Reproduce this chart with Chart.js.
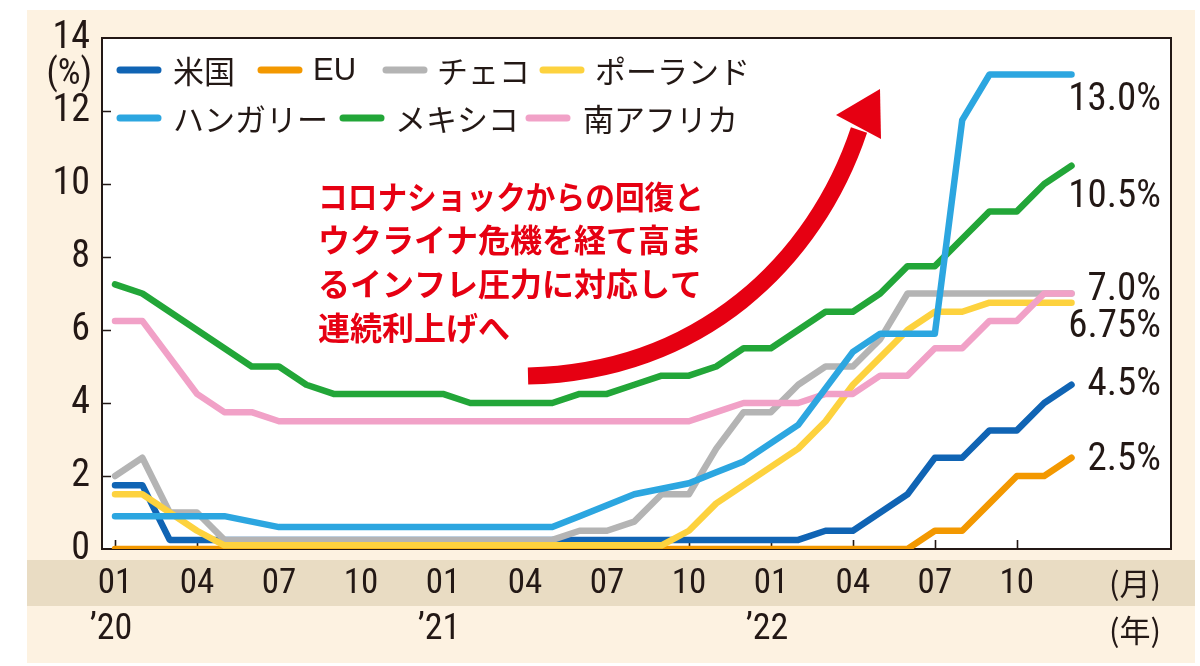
<!DOCTYPE html>
<html><head><meta charset="utf-8">
<script src="https://cdn.jsdelivr.net/npm/chart.js@4.4.1/dist/chart.umd.min.js"></script>
<style>html,body{margin:0;padding:0;background:#fff}canvas{display:block}</style>
</head><body>
<canvas id="c" width="1200" height="666"></canvas>
<script>
// ---- data ----
const months = [
 '2020-01','2020-02','2020-03','2020-04','2020-05','2020-06','2020-07','2020-08','2020-09','2020-10','2020-11','2020-12',
 '2021-01','2021-02','2021-03','2021-04','2021-05','2021-06','2021-07','2021-08','2021-09','2021-10','2021-11','2021-12',
 '2022-01','2022-02','2022-03','2022-04','2022-05','2022-06','2022-07','2022-08','2022-09','2022-10','2022-11','2022-12'];
const seriesNames = ['米国','EU','チェコ','ポーランド','ハンガリー','メキシコ','南アフリカ'];
const usRate = [1.75,1.75,0.25,0.25,0.25,0.25,0.25,0.25,0.25,0.25,0.25,0.25,
 0.25,0.25,0.25,0.25,0.25,0.25,0.25,0.25,0.25,0.25,0.25,0.25,
 0.25,0.25,0.5,0.5,1.0,1.5,2.5,2.5,3.25,3.25,4.0,4.5];
const euRate = [0,0,0,0,0,0,0,0,0,0,0,0,
 0,0,0,0,0,0,0,0,0,0,0,0,
 0,0,0,0,0,0,0.5,0.5,1.25,2.0,2.0,2.5];
const czRate = [2.0,2.5,1.0,1.0,0.25,0.25,0.25,0.25,0.25,0.25,0.25,0.25,
 0.25,0.25,0.25,0.25,0.25,0.5,0.5,0.75,1.5,1.5,2.75,3.75,
 3.75,4.5,5.0,5.0,5.75,7.0,7.0,7.0,7.0,7.0,7.0,7.0];
const plRate = [1.5,1.5,1.0,0.5,0.1,0.1,0.1,0.1,0.1,0.1,0.1,0.1,
 0.1,0.1,0.1,0.1,0.1,0.1,0.1,0.1,0.1,0.5,1.25,1.75,
 2.25,2.75,3.5,4.5,5.25,6.0,6.5,6.5,6.75,6.75,6.75,6.75];
const huRate = [0.9,0.9,0.9,0.9,0.9,0.75,0.6,0.6,0.6,0.6,0.6,0.6,
 0.6,0.6,0.6,0.6,0.6,0.9,1.2,1.5,1.65,1.8,2.1,2.4,
 2.9,3.4,4.4,5.4,5.9,5.9,5.9,11.75,13.0,13.0,13.0,13.0];
const mxRate = [7.25,7.0,6.5,6.0,5.5,5.0,5.0,4.5,4.25,4.25,4.25,4.25,
 4.25,4.0,4.0,4.0,4.0,4.25,4.25,4.5,4.75,4.75,5.0,5.5,
 5.5,6.0,6.5,6.5,7.0,7.75,7.75,8.5,9.25,9.25,10.0,10.5];
const zaRate = [6.25,6.25,5.25,4.25,3.75,3.75,3.5,3.5,3.5,3.5,3.5,3.5,
 3.5,3.5,3.5,3.5,3.5,3.5,3.5,3.5,3.5,3.5,3.75,4.0,
 4.0,4.0,4.25,4.25,4.75,4.75,5.5,5.5,6.25,6.25,7.0,7.0];
const yTicks = [0,2,4,6,8,10,12,14];
const xTickMonths = ['01','04','07','10'];
const yearLabels = ['’20','’21','’22'];
const endLabels = ['13.0%','10.5%','7.0%','6.75%','4.5%','2.5%'];
const noteLines = ['コロナショックからの回復と','ウクライナ危機を経て高ま','るインフレ圧力に対応して','連続利上げへ'];

// ---- styling ----
const INK = '#231815';
const RED = '#e60012';
const NUM = "'Liberation Sans Narrow','Arial Narrow','Roboto Condensed','Liberation Sans',sans-serif";
const JP = "'Noto Sans CJK JP','Noto Sans',sans-serif";
const colors = ['#1064b4','#f39800','#b4b4b4','#fdd23e','#2ca6e0','#22a638','#f1a1c7'];
const orders = [7,6,5,4,1,2,3];
const allSeries = [usRate,euRate,czRate,plRate,huRate,mxRate,zaRate];
const tickIdx = months.map((m,i)=>xTickMonths.includes(m.slice(5))?i:-1).filter(i=>i>=0);
const yearIdx = months.map((m,i)=>m.endsWith('-01')?i:-1).filter(i=>i>=0);

const datasets = allSeries.map((arr,k)=>({
  label: seriesNames[k],
  data: arr.map((v,i)=>({x:i,y:v})),
  borderColor: colors[k],
  backgroundColor: colors[k],
  borderWidth: 6.5,
  pointRadius: 0,
  tension: 0,
  borderCapStyle: 'round',
  borderJoinStyle: 'round',
  order: orders[k]
}));

const decor = {
  id: 'decor',
  beforeDraw(chart){
    const ctx = chart.ctx, ca = chart.chartArea;
    ctx.save();
    ctx.fillStyle = '#ffffff'; ctx.fillRect(0,0,1200,666);
    ctx.fillStyle = '#fdf2e1'; ctx.fillRect(27,10,1168,653);
    ctx.fillStyle = '#e9dcc3'; ctx.fillRect(27,560,1168,46);
    ctx.fillStyle = '#ffffff'; ctx.fillRect(ca.left,ca.top,ca.right-ca.left,ca.bottom-ca.top);
    ctx.restore();
  },
  beforeDatasetsDraw(chart){
    const ctx = chart.ctx, ca = chart.chartArea;
    const xs = chart.scales.x, ys = chart.scales.y;
    ctx.save();
    ctx.strokeStyle = INK; ctx.lineWidth = 2;
    ctx.strokeRect(ca.left, ca.top, ca.right-ca.left, ca.bottom-ca.top);
    ctx.lineWidth = 1.6;
    ctx.beginPath();
    yTicks.forEach(v=>{ if(v>0 && v<14){ const y=Math.round(ys.getPixelForValue(v))+0.5; ctx.moveTo(ca.left,y); ctx.lineTo(ca.left+9,y);} });
    tickIdx.forEach(i=>{ const x=Math.round(xs.getPixelForValue(i))+0.5; ctx.moveTo(x,ca.bottom); ctx.lineTo(x,ca.bottom-9); });
    ctx.stroke();
    ctx.restore();
  },
  afterDatasetsDraw(chart){
    const ctx = chart.ctx, xs = chart.scales.x;
    ctx.save();
    // legend
    const legPos = [[117,173,70],[258,313,70],[383,437,70],[540,595,70],[117,173,118],[340,395,118],[526,583,118]];
    chart.data.datasets.forEach((ds,k)=>{
      const [sx,tx,y] = legPos[k];
      ctx.strokeStyle = ds.borderColor; ctx.lineWidth = 7; ctx.lineCap = 'round';
      ctx.beginPath(); ctx.moveTo(sx+3,y); ctx.lineTo(sx+41,y); ctx.stroke();
      ctx.fillStyle = INK; ctx.textBaseline = 'middle'; ctx.textAlign = 'left';
      ctx.font = (ds.label==='EU' ? "31px 'Liberation Sans',sans-serif" : "31px "+JP);
      ctx.fillText(ds.label, tx, y+1);
    });
    // note
    ctx.fillStyle = RED; ctx.font = "bold 32px "+JP; ctx.textBaseline='middle'; ctx.textAlign='left';
    const noteY = [197,240,284,328];
    noteLines.forEach((t,i)=>ctx.fillText(t,318,noteY[i],386));
    // arrow
    ctx.strokeStyle = RED; ctx.lineWidth = 17; ctx.lineCap='butt';
    ctx.beginPath(); ctx.moveTo(528,376); ctx.bezierCurveTo(700,372,815,262,859,130); ctx.stroke();
    ctx.fillStyle = RED; ctx.beginPath(); ctx.moveTo(880,89); ctx.lineTo(836,115); ctx.lineTo(881,139); ctx.closePath(); ctx.fill();
    // end labels
    ctx.fillStyle = INK; ctx.font = "39px "+NUM; ctx.textAlign='right'; ctx.textBaseline='middle';
    const endY = [100,197,290,327,385,460];
    endLabels.forEach((t,i)=>ctx.fillText(t,1161,endY[i]));
    // (%)
    ctx.font = "36px "+NUM; ctx.fillText('(%)',92,75);
    // month/year units
    ctx.font = "31px "+JP; ctx.fillText('(月)',1161,583); ctx.fillText('(年)',1161,630);
    // year labels
    ctx.font = "36px "+NUM; ctx.textAlign='center';
    yearIdx.forEach((i,k)=>ctx.fillText(yearLabels[k], xs.getPixelForValue(i)-4, 630));
    ctx.restore();
  }
};

new Chart(document.getElementById('c'), {
  type: 'line',
  data: { datasets },
  options: {
    responsive: false,
    animation: false,
    devicePixelRatio: 1,
    layout: { padding: { top: 38, right: 29, left: 0, bottom: 0 } },
    plugins: { legend: { display: false }, tooltip: { enabled: false } },
    scales: {
      x: {
        type: 'linear', min: -0.476, max: 38.64,
        afterBuildTicks: s => { s.ticks = tickIdx.map(v=>({value:v})); },
        afterFit: s => { s.height = 117; },
        grid: { display: false, drawTicks: false },
        border: { display: false },
        ticks: { autoSkip: false, maxRotation: 0, padding: 14, color: INK,
          font: { family: NUM, size: 35 },
          callback: v => months[v] ? months[v].slice(5) : '' }
      },
      y: {
        min: 0, max: 14,
        afterBuildTicks: s => { s.ticks = yTicks.map(v=>({value:v})); },
        afterFit: s => { s.width = 102; },
        grid: { display: false, drawTicks: false },
        border: { display: false },
        ticks: { padding: 12, color: INK, font: { family: NUM, size: 38 } }
      }
    }
  },
  plugins: [decor]
});
</script>
</body></html>
